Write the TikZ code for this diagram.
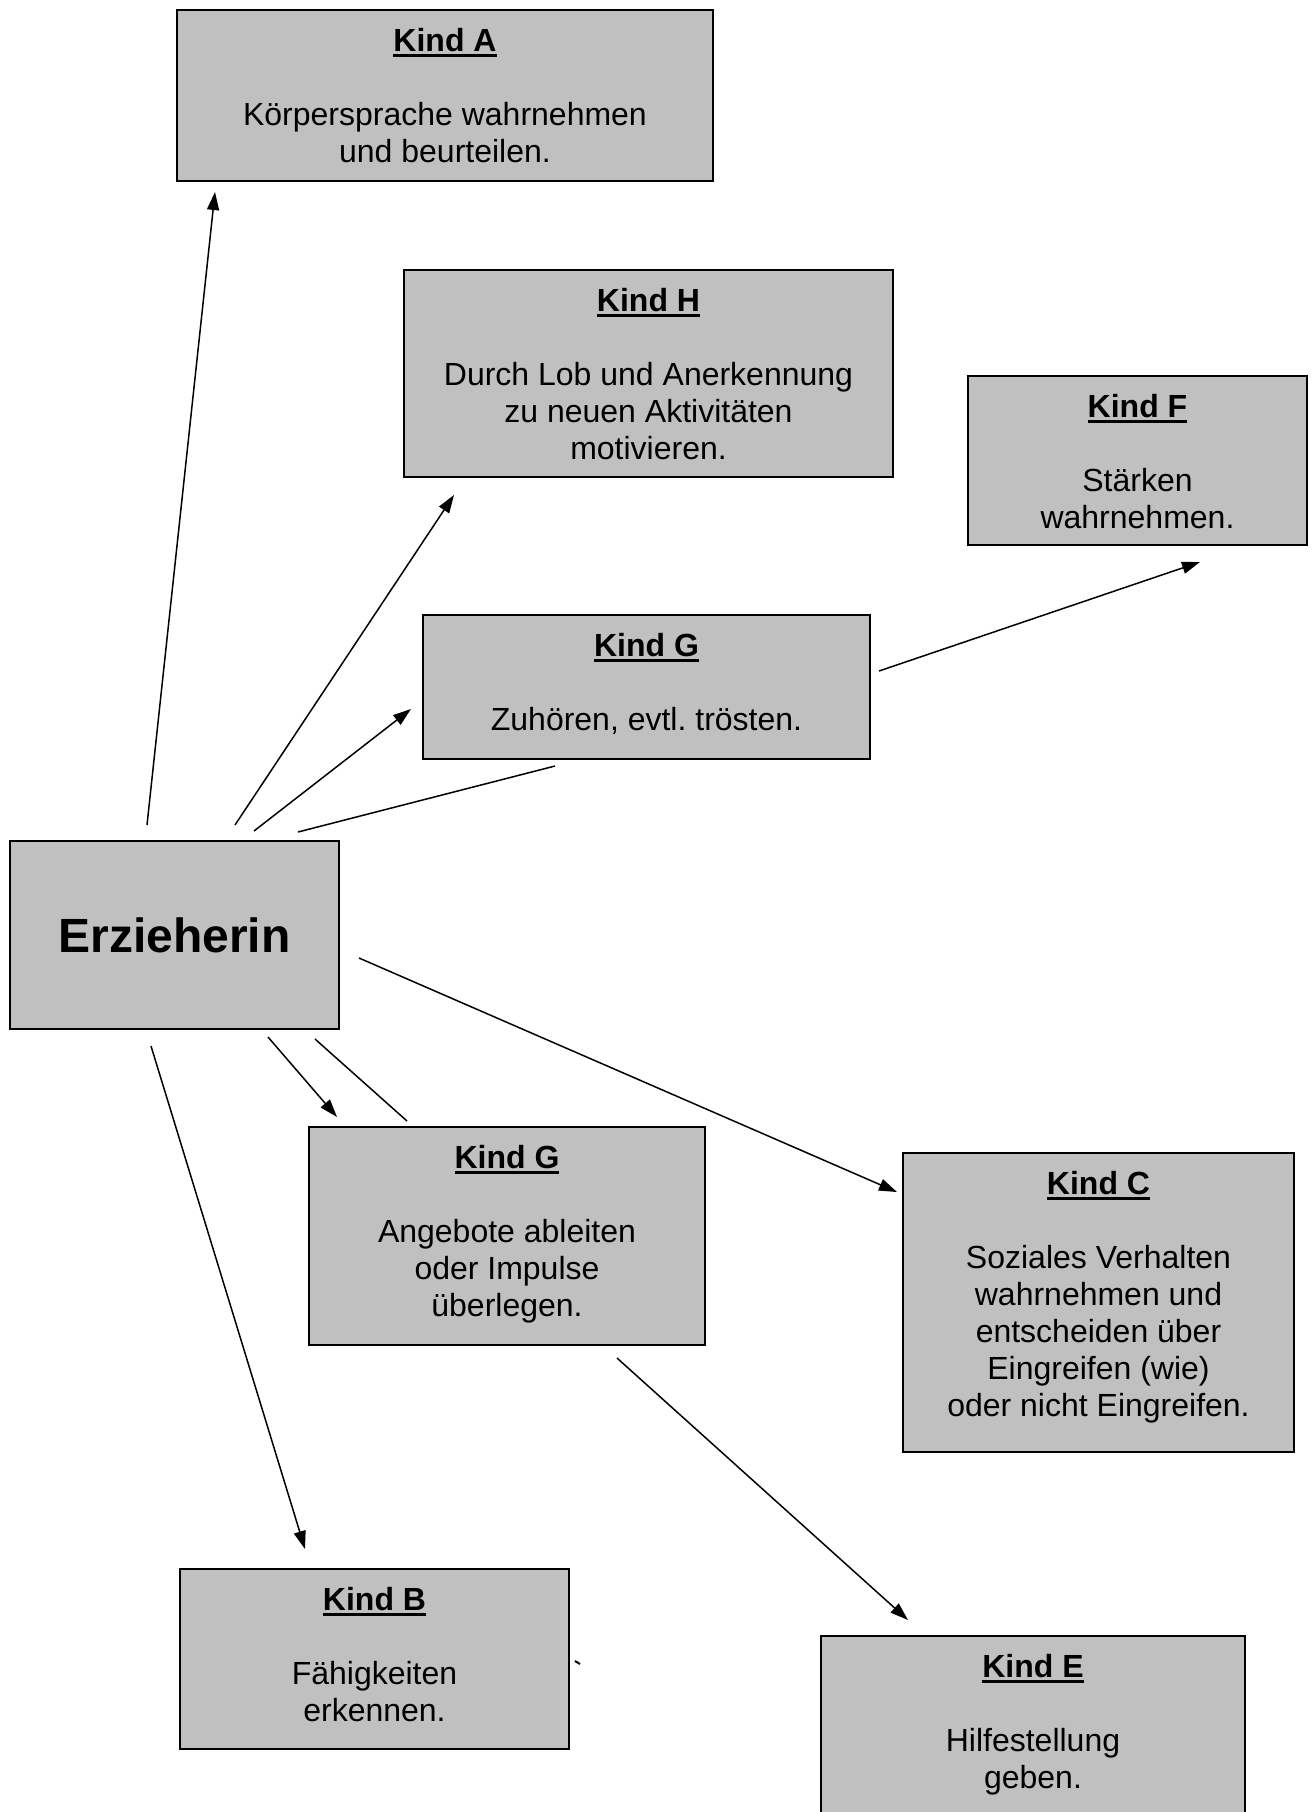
\documentclass[tikz,border=0pt]{standalone}
\usepackage{fontspec}
\setmainfont{Liberation Sans}
\usetikzlibrary{arrows.meta}
\definecolor{boxgray}{HTML}{C0C0C0}
\newsavebox\kulbox
\newcommand{\kul}[1]{\sbox\kulbox{#1}\rlap{\rule[-3pt]{\wd\kulbox}{1.4pt}}\usebox\kulbox}
\frenchspacing
\begin{document}
\begin{tikzpicture}[x=0.5pt,y=-0.5pt,
  kbox/.style={draw=black,line width=1pt,fill=boxgray,rectangle,inner sep=0pt},
  ktext/.style={anchor=north,align=center,inner sep=0pt,font=\fontsize{16}{18.5}\selectfont},
  conn/.style={line width=0.75pt,-{Triangle[length=9pt,width=6pt]}},
  plainline/.style={line width=0.75pt}]
\useasboundingbox (0,0) rectangle (1314,1812);
\clip (0,0) rectangle (1314,1812);

% boxes
\node[kbox,minimum width=268pt,minimum height=85.5pt] (A) at (445,95.5) {};
\node[kbox,minimum width=244.5pt,minimum height=103.5pt] (H) at (648.5,373.5) {};
\node[kbox,minimum width=169.5pt,minimum height=84.5pt] (F) at (1137.5,460.5) {};
\node[kbox,minimum width=223.5pt,minimum height=72pt] (G1) at (646.5,687) {};
\node[kbox,minimum width=164.5pt,minimum height=94pt,font=\fontsize{24}{28}\selectfont\bfseries] (Erz) at (174.5,935) {Erzieherin};
\node[kbox,minimum width=198pt,minimum height=109pt] (G2) at (507,1236) {};
\node[kbox,minimum width=195.5pt,minimum height=149.5pt] (C) at (1098.5,1302.5) {};
\node[kbox,minimum width=194.5pt,minimum height=90pt] (B) at (374.5,1659) {};
\node[kbox,minimum width=212pt,minimum height=97pt] (E) at (1033,1733) {};

% texts
\node[ktext] (tA) at ([yshift=-9.25pt]A.north) {\kul{\textbf{Kind A}}\\[18.5pt]Körpersprache wahrnehmen\\und beurteilen.};
\node[ktext] (tH) at ([yshift=-9.25pt]H.north) {\kul{\textbf{Kind H}}\\[18.5pt]Durch Lob und Anerkennung\\zu neuen Aktivitäten\\motivieren.};
\node[ktext] (tF) at ([yshift=-9.25pt]F.north) {\kul{\textbf{Kind F}}\\[18.5pt]Stärken\\wahrnehmen.};
\node[ktext] (tG1) at ([yshift=-9.25pt]G1.north) {\kul{\textbf{Kind G}}\\[18.5pt]Zuhören, evtl. trösten.};
\node[ktext] (tG2) at ([yshift=-9.25pt]G2.north) {\kul{\textbf{Kind G}}\\[18.5pt]Angebote ableiten\\oder Impulse\\überlegen.};
\node[ktext] (tC) at ([yshift=-9.25pt]C.north) {\kul{\textbf{Kind C}}\\[18.5pt]Soziales Verhalten\\wahrnehmen und\\entscheiden über\\Eingreifen (wie)\\oder nicht Eingreifen.};
\node[ktext] (tB) at ([yshift=-9.25pt]B.north) {\kul{\textbf{Kind B}}\\[18.5pt]Fähigkeiten\\erkennen.};
\node[ktext] (tE) at ([yshift=-9.25pt]E.north) {\kul{\textbf{Kind E}}\\[18.5pt]Hilfestellung\\geben.};

% connector end points
\coordinate (sA) at (147,825);   \coordinate (eA) at (215,192);
\coordinate (sH) at (235,825);   \coordinate (eH) at (454,495);
\coordinate (sG1) at (254,831);  \coordinate (eG1) at (411,709);
\coordinate (sL1) at (298,832);  \coordinate (eL1) at (555,766);
\coordinate (sF) at (879,671);   \coordinate (eF) at (1200,562);
\coordinate (sC) at (359,958);   \coordinate (eC) at (897,1192);
\coordinate (sG2) at (268,1037); \coordinate (eG2) at (337,1117);
\coordinate (sL2) at (315,1039); \coordinate (eL2) at (407,1121);
\coordinate (sB) at (151,1046);  \coordinate (eB) at (305,1549);
\coordinate (sE) at (617,1358);  \coordinate (eE) at (908,1620);
\coordinate (tk1) at (575,1661); \coordinate (tk2) at (580,1664);

% connectors
\draw[conn] (sA) -- (eA);
\draw[conn] (sH) -- (eH);
\draw[conn] (sG1) -- (eG1);
\draw[plainline] (sL1) -- (eL1);
\draw[conn] (sF) -- (eF);
\draw[conn] (sC) -- (eC);
\draw[conn] (sG2) -- (eG2);
\draw[plainline] (sL2) -- (eL2);
\draw[conn] (sB) -- (eB);
\draw[conn] (sE) -- (eE);
\draw[line width=1pt] (tk1) -- (tk2);
\end{tikzpicture}
\end{document}
